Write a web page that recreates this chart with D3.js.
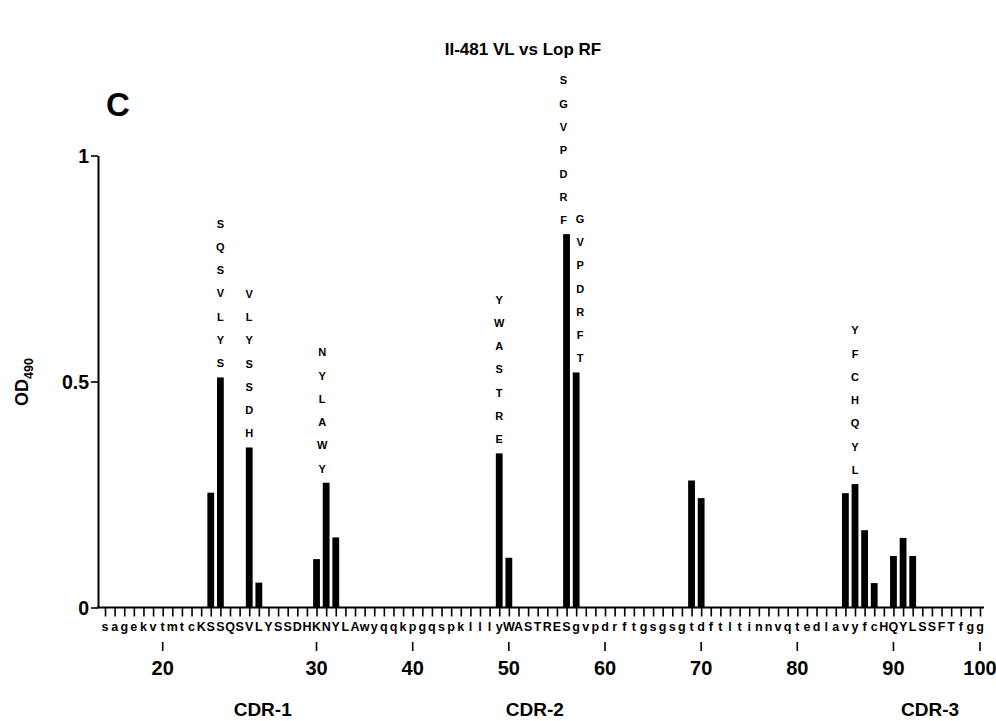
<!DOCTYPE html>
<html><head><meta charset="utf-8">
<script src="https://cdn.jsdelivr.net/npm/d3@7"></script>
<style>
body{margin:0;background:#fff}
text{font-family:"Liberation Sans",Arial,Helvetica,sans-serif;font-weight:bold;fill:#000}
</style>
</head><body>
<svg id="chart" width="996" height="721"></svg>
<script>
// ---- data ----
const sequence = "sagekvtmtcKSSQSVLYSSDHKNYLAwyqqkpgqspklllyWASTRESgvpdrftgsgsgtdftltinnvqtedlavyfcHQYLSSFTfgg".split("");
const barIndex = [11, 12, 15, 16, 22, 23, 24, 41, 42, 48, 49, 61, 62, 77, 78, 79, 80, 82, 83, 84];
const barValue = [0.254, 0.509, 0.354, 0.055, 0.107, 0.276, 0.155, 0.341, 0.11, 0.826, 0.52, 0.281, 0.242, 0.253, 0.273, 0.171, 0.054, 0.114, 0.154, 0.114];
const peptideIndex = [12, 15, 23, 41, 48, 49, 78];
const peptideLabel = ["SQSVLYS", "VLYSSDH", "NYLAWY", "YWASTRE", "SGVPDRF", "GVPDRFT", "YFCHQYL"];
const numberLabel = [20, 30, 40, 50, 60, 70, 80, 90, 100];
const numberIndex = [6, 22, 32, 42, 52, 62, 72, 82, 91];
const cdrLabel = ["CDR-1", "CDR-2", "CDR-3"];
const cdrIndex = [16.4, 44.7, 85.8];
const yTicks = [0, 0.5, 1];
const yTickText = ["0", "0.5", "1"];
const title = "II-481 VL vs Lop RF";
const panel = "C";

// ---- layout ----
const svg = d3.select("#chart");
const x = d3.scaleLinear().domain([0, sequence.length - 1]).range([105, 980]);
const y = d3.scaleLinear().domain([0, 1]).range([607.5, 155.5]);
const axisX = 98;
const barW = 6.8;
const labelNudge = {23: -4, 48: -3, 49: 4};

// title and panel letter
svg.append("text").attr("x", 523).attr("y", 55).attr("text-anchor", "middle")
  .style("font-size", "17px").text(title);
svg.append("text").attr("x", 106).attr("y", 116).style("font-size", "33px").text(panel);

// y axis
const yAxis = svg.append("g").attr("transform", `translate(${axisX},0)`)
  .call(d3.axisLeft(y).tickValues(yTicks).tickSize(7).tickSizeOuter(0)
    .tickFormat((d, i) => yTickText[i]));
yAxis.select(".domain").attr("stroke-width", 2);
yAxis.selectAll(".tick line").attr("stroke-width", 1.6);
yAxis.selectAll(".tick text").attr("x", -9).attr("dy", "0.36em")
  .style("font-size", "19.5px").style("font-family", "Liberation Sans, Arial, sans-serif").style("font-weight", "bold");

// y label OD490
const yl = svg.append("text").attr("transform", "translate(28,382) rotate(-90)")
  .attr("text-anchor", "middle").style("font-size", "18px");
yl.append("tspan").text("OD");
yl.append("tspan").attr("dy", 5).style("font-size", "12.5px").text("490");

// x axis ticks per residue
const xAxis = svg.append("g").attr("transform", `translate(0,${y(0)})`)
  .call(d3.axisBottom(x).tickValues(d3.range(sequence.length)).tickSize(9).tickSizeOuter(0).tickFormat(""));
xAxis.select(".domain").remove();
xAxis.selectAll(".tick line").attr("stroke-width", 1.6);
svg.append("line").attr("x1", axisX - 1).attr("x2", x(sequence.length - 1) + 4)
  .attr("y1", y(0)).attr("y2", y(0)).attr("stroke", "#000").attr("stroke-width", 2);

// sequence letters
svg.append("g").selectAll("text").data(sequence).join("text")
  .attr("x", (d, i) => x(i)).attr("y", 631).attr("text-anchor", "middle")
  .style("font-size", "12.5px").text(d => d);

// numbered positions
const ng = svg.append("g");
ng.selectAll("line").data(numberIndex).join("line")
  .attr("x1", d => x(d)).attr("x2", d => x(d)).attr("y1", 642).attr("y2", 651)
  .attr("stroke", "#000").attr("stroke-width", 1.6);
ng.selectAll("text").data(numberLabel).join("text")
  .attr("x", (d, i) => x(numberIndex[i])).attr("y", 675).attr("text-anchor", "middle")
  .style("font-size", "20px").text(d => d);

// CDR labels
svg.append("g").selectAll("text").data(cdrLabel).join("text")
  .attr("x", (d, i) => x(cdrIndex[i])).attr("y", 716).attr("text-anchor", "middle")
  .style("font-size", "19px").text(d => d);

// bars
svg.append("g").selectAll("rect").data(barIndex).join("rect")
  .attr("x", d => x(d) - barW / 2).attr("width", barW)
  .attr("y", (d, i) => y(barValue[i])).attr("height", (d, i) => y(0) - y(barValue[i]))
  .attr("fill", "#000");

// peptide letter stacks
const step = 23.3;
peptideIndex.forEach((pi, k) => {
  const v = barValue[barIndex.indexOf(pi)];
  const letters = peptideLabel[k].split("");
  const n = letters.length;
  svg.append("g").selectAll("text").data(letters).join("text")
    .attr("x", x(pi) + (labelNudge[pi] || 0))
    .attr("y", (d, j) => y(v) - 14 - (n - 1 - j) * step)
    .attr("dy", "0.36em").attr("text-anchor", "middle")
    .style("font-size", "11px").text(d => d);
});
</script>
</body></html>
